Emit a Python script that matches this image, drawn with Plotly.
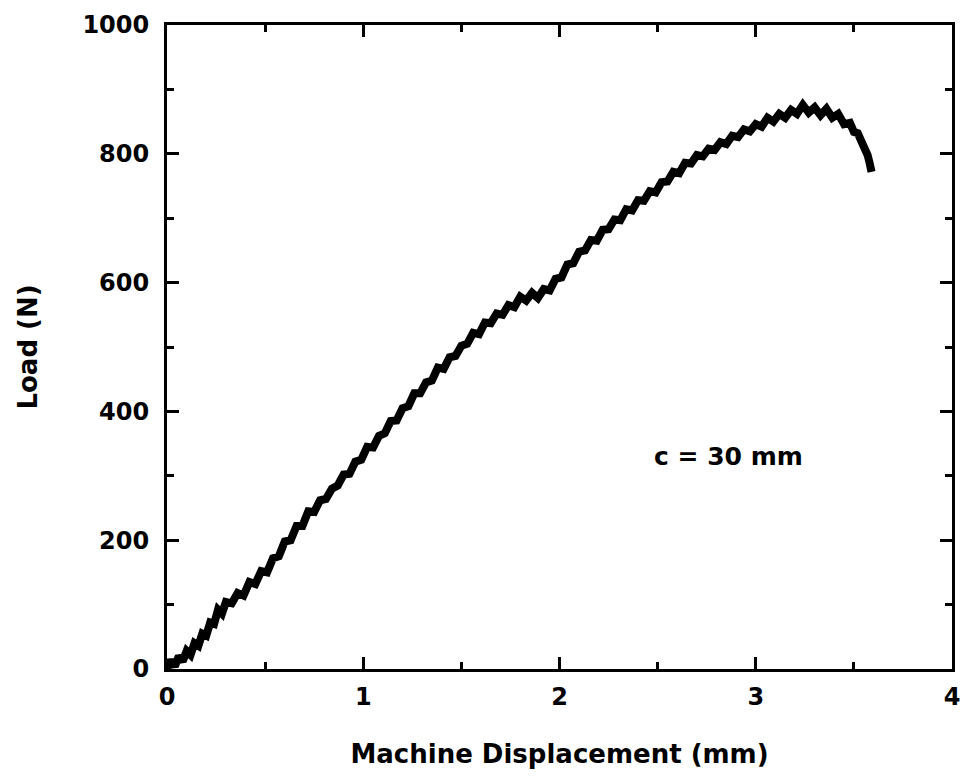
import plotly.graph_objects as go

displacement_mm = [0.00, 0.02, 0.04, 0.06, 0.08, 0.10, 0.12, 0.14, 0.16, 0.18, 0.20, 0.22, 0.24,
                   0.26, 0.28, 0.30, 0.33, 0.36, 0.39, 0.42, 0.45, 0.48, 0.51, 0.54, 0.57, 0.60,
                   0.63, 0.66, 0.69, 0.72, 0.75, 0.78, 0.81, 0.84, 0.87, 0.90, 0.93, 0.96, 0.99,
                   1.02, 1.05, 1.08, 1.11, 1.14, 1.17, 1.20, 1.23, 1.26, 1.29, 1.32, 1.35, 1.38,
                   1.41, 1.44, 1.47, 1.50, 1.53, 1.56, 1.59, 1.62, 1.65, 1.68, 1.71, 1.74, 1.77,
                   1.80, 1.83, 1.86, 1.89, 1.92, 1.95, 1.98, 2.01, 2.04, 2.07, 2.10, 2.13, 2.16,
                   2.19, 2.22, 2.25, 2.28, 2.31, 2.34, 2.37, 2.40, 2.43, 2.46, 2.49, 2.52, 2.55,
                   2.58, 2.61, 2.64, 2.67, 2.70, 2.73, 2.76, 2.79, 2.82, 2.85, 2.88, 2.91, 2.94,
                   2.97, 3.00, 3.03, 3.06, 3.09, 3.12, 3.15, 3.18, 3.21, 3.24, 3.27, 3.30, 3.33,
                   3.36, 3.39, 3.42, 3.45, 3.48, 3.50, 3.52, 3.54, 3.56, 3.57, 3.58, 3.59]
load_N = [0, 14, 4, 20, 12, 28, 22, 40, 36, 55, 52, 72, 70,
          92, 86, 104, 102, 118, 114, 135, 132, 152, 150, 172, 175, 198,
          200, 222, 222, 245, 244, 262, 264, 280, 285, 302, 303, 322, 325,
          345, 344, 362, 366, 385, 386, 405, 408, 428, 428, 445, 448, 468,
          466, 484, 486, 502, 505, 522, 520, 538, 537, 552, 550, 565, 562,
          578, 572, 584, 576, 590, 588, 606, 608, 628, 630, 648, 650, 666,
          665, 682, 683, 698, 697, 714, 712, 728, 727, 742, 740, 756, 757,
          772, 770, 786, 785, 798, 796, 808, 806, 818, 815, 828, 826, 838,
          835, 846, 842, 856, 850, 862, 856, 868, 862, 876, 864, 872, 860,
          870, 856, 862, 846, 848, 834, 832, 818, 808, 798, 786, 772]

x_ticks = [0, 1, 2, 3, 4]
y_ticks = [0, 200, 400, 600, 800, 1000]
annotation_text = "c = 30 mm"
x_title = "Machine Displacement (mm)"
y_title = "Load (N)"

FONT = "DejaVu Sans"

fig = go.Figure()
fig.add_trace(go.Scatter(x=displacement_mm, y=load_N, mode="lines",
                         line=dict(color="black", width=8), showlegend=False))

axis_common = dict(
    showline=True, linecolor="black", linewidth=3, mirror="ticks",
    ticks="inside", ticklen=12, tickwidth=3, tickcolor="black",
    showgrid=False, zeroline=False,
    tickfont=dict(family=FONT, size=24, color="black", weight="bold"),
    title_font=dict(family=FONT, size=26, color="black", weight="bold"),
)

fig.update_xaxes(**axis_common, range=[0, 4], tickvals=x_ticks,
                 ticktext=[str(v) for v in x_ticks],
                 minor=dict(dtick=0.5, ticks="inside", ticklen=7, tickwidth=3, tickcolor="black"),
                 ticklabelstandoff=4,
                 title=dict(text=x_title, standoff=36))
fig.update_yaxes(**axis_common, range=[0, 1000], tickvals=y_ticks,
                 ticktext=[str(v) for v in y_ticks],
                 minor=dict(dtick=100, ticks="inside", ticklen=7, tickwidth=3, tickcolor="black"),
                 ticklabelstandoff=10,
                 title=dict(text=y_title, standoff=38))

fig.add_annotation(x=2.86, y=330, text=annotation_text, showarrow=False,
                   font=dict(family=FONT, size=25, color="black", weight="bold"))

fig.update_layout(
    width=964, height=777,
    margin=dict(l=167, r=12, t=25, b=108, autoexpand=False),
    plot_bgcolor="white", paper_bgcolor="white",
)

fig.write_html("out.html", config={"displayModeBar": False},
               post_script="document.body.style.margin='0';document.body.style.overflow='hidden';")
